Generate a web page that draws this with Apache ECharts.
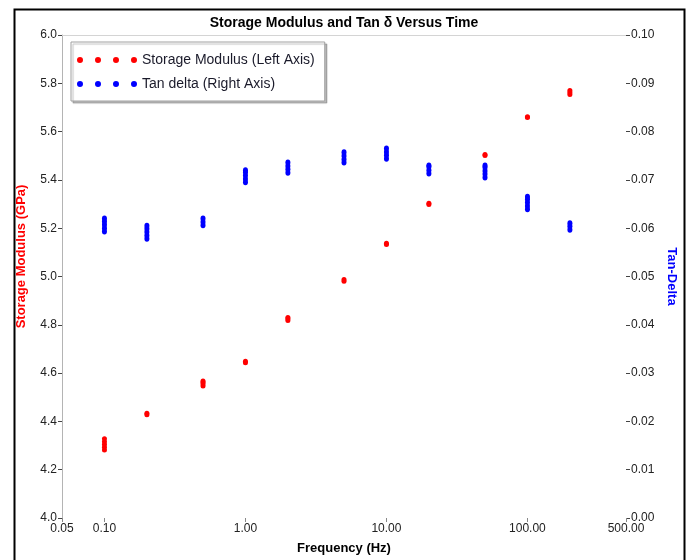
<!DOCTYPE html>
<html>
<head>
<meta charset="utf-8">
<script src="https://cdn.jsdelivr.net/npm/echarts@6/dist/echarts.min.js"></script>
<style>html,body{margin:0;padding:0;background:#fff}#c{width:688px;height:560px}</style>
</head>
<body>
<div id="c"></div>
<script>
// Frequencies (Hz)
const frequencies = [0.1, 0.2, 0.5, 1, 2, 5, 10, 20, 50, 100, 200];
// Storage modulus readings (GPa), repeated readings per frequency
const storageModulus = [
  [4.282, 4.293, 4.304, 4.316, 4.328],
  [4.428, 4.434],
  [4.547, 4.555, 4.562, 4.567],
  [4.643, 4.649],
  [4.818, 4.825, 4.830],
  [4.980, 4.988],
  [5.133, 5.138],
  [5.298, 5.303],
  [5.501, 5.505],
  [5.658, 5.662],
  [5.754, 5.762, 5.770]
];
// Tan delta readings, repeated readings per frequency
const tanDelta = [
  [0.0593, 0.0600, 0.0607, 0.0614, 0.0620],
  [0.0578, 0.0585, 0.0592, 0.0599, 0.0605],
  [0.0606, 0.0613, 0.0620],
  [0.0695, 0.0702, 0.0709, 0.0716, 0.0720],
  [0.0715, 0.0722, 0.0729, 0.0736],
  [0.0736, 0.0743, 0.0750, 0.0757],
  [0.0744, 0.0751, 0.0758, 0.0765],
  [0.0713, 0.0720, 0.0727, 0.0730],
  [0.0705, 0.0712, 0.0719, 0.0726, 0.0730],
  [0.0639, 0.0646, 0.0653, 0.0660, 0.0665],
  [0.0597, 0.0604, 0.0610]
];
const seriesNames = ['Storage Modulus (Left Axis)', 'Tan delta (Right Axis)'];

function pairs(vals) {
  const out = [];
  frequencies.forEach((f, i) => vals[i].forEach(v => out.push([f, v])));
  return out;
}

const dot = 'a3,3 0 1,0 6,0a3,3 0 1,0 -6,0';
const fourDots = 'path://M0,3' + dot + 'M18,3' + dot + 'M36,3' + dot + 'M54,3' + dot + 'Z';

const font = 'Liberation Sans, Arial, sans-serif';
const chart = echarts.init(document.getElementById('c'));
chart.setOption({
  animation: false,
  backgroundColor: '#fff',
  graphic: [{
    type: 'rect', left: 12, top: 7,
    shape: { width: 670, height: 600 },
    style: { fill: 'none', stroke: '#000', lineWidth: 2 },
    silent: true, z: -10
  }],
  title: {
    text: 'Storage Modulus and Tan δ Versus Time',
    left: 'center', top: 11,
    textStyle: { fontFamily: font, fontWeight: 'bold', fontSize: 14, color: '#000' }
  },
  legend: {
    orient: 'vertical', left: 71, top: 42,
    itemWidth: 60, itemHeight: 6, itemGap: 8,
    padding: [10, 10, 9, 6],
    backgroundColor: '#fff', borderColor: '#a0a0a0', borderWidth: 1,
    shadowColor: 'rgba(0,0,0,0.25)', shadowOffsetX: 2, shadowOffsetY: 2, shadowBlur: 1,
    textStyle: { fontFamily: font, fontSize: 14, color: '#1a1a2a', lineHeight: 16, height: 16 },
    data: [
      { name: seriesNames[0], icon: fourDots },
      { name: seriesNames[1], icon: fourDots }
    ]
  },
  grid: { left: 62, right: 62, top: 35, bottom: 42 },
  xAxis: [{
    type: 'log', logBase: 10, min: 0.05, max: 500,
    name: 'Frequency (Hz)', nameLocation: 'middle', nameGap: 24,
    nameTextStyle: { fontFamily: font, fontWeight: 'bold', fontSize: 13, color: '#000' },
    axisLine: { show: false },
    axisTick: { show: true, length: 4, lineStyle: { color: '#888' } },
    axisLabel: { fontFamily: font, fontSize: 12, color: '#222', margin: 5,
      formatter: v => v.toFixed(2) },
    splitLine: { show: false }, minorTick: { show: false }
  }, {
    type: 'log', logBase: 10, min: 0.05, max: 500, position: 'top',
    axisLine: { show: true, lineStyle: { color: '#d4d4d4', width: 1 } },
    axisTick: { show: false }, axisLabel: { show: false }, splitLine: { show: false }
  }],
  yAxis: [{
    type: 'value', min: 4, max: 6, interval: 0.2, position: 'left',
    name: 'Storage Modulus (GPa)', nameLocation: 'middle', nameGap: 34, nameRotate: 90,
    nameTextStyle: { fontFamily: font, fontWeight: 'bold', fontSize: 13, color: '#ff0000',
      padding: [0, 0, 0, 40] },
    axisLine: { show: true, lineStyle: { color: '#b4b4b4' } },
    axisTick: { show: true, length: 4, lineStyle: { color: '#444' } },
    axisLabel: { fontFamily: font, fontSize: 12, color: '#222', margin: 5,
      formatter: v => v.toFixed(1) },
    splitLine: { show: false }
  }, {
    type: 'value', min: 0, max: 0.1, interval: 0.01, position: 'right',
    name: 'Tan-Delta', nameLocation: 'middle', nameGap: 36, nameRotate: -90,
    nameTextStyle: { fontFamily: font, fontWeight: 'bold', fontSize: 13, color: '#0000ff' },
    axisLine: { show: false },
    axisTick: { show: true, length: 4, lineStyle: { color: '#444' } },
    axisLabel: { fontFamily: font, fontSize: 12, color: '#222', margin: 5,
      formatter: v => v.toFixed(2) },
    splitLine: { show: false }
  }],
  series: [{
    name: seriesNames[0], type: 'scatter', xAxisIndex: 0, yAxisIndex: 0,
    symbol: 'circle', symbolSize: 5,
    itemStyle: { color: '#ff0000', opacity: 1 },
    data: pairs(storageModulus)
  }, {
    name: seriesNames[1], type: 'scatter', xAxisIndex: 0, yAxisIndex: 1,
    symbol: 'circle', symbolSize: [5, 6],
    itemStyle: { color: '#0000ff', opacity: 1 },
    data: pairs(tanDelta)
  }]
});
</script>
</body>
</html>
